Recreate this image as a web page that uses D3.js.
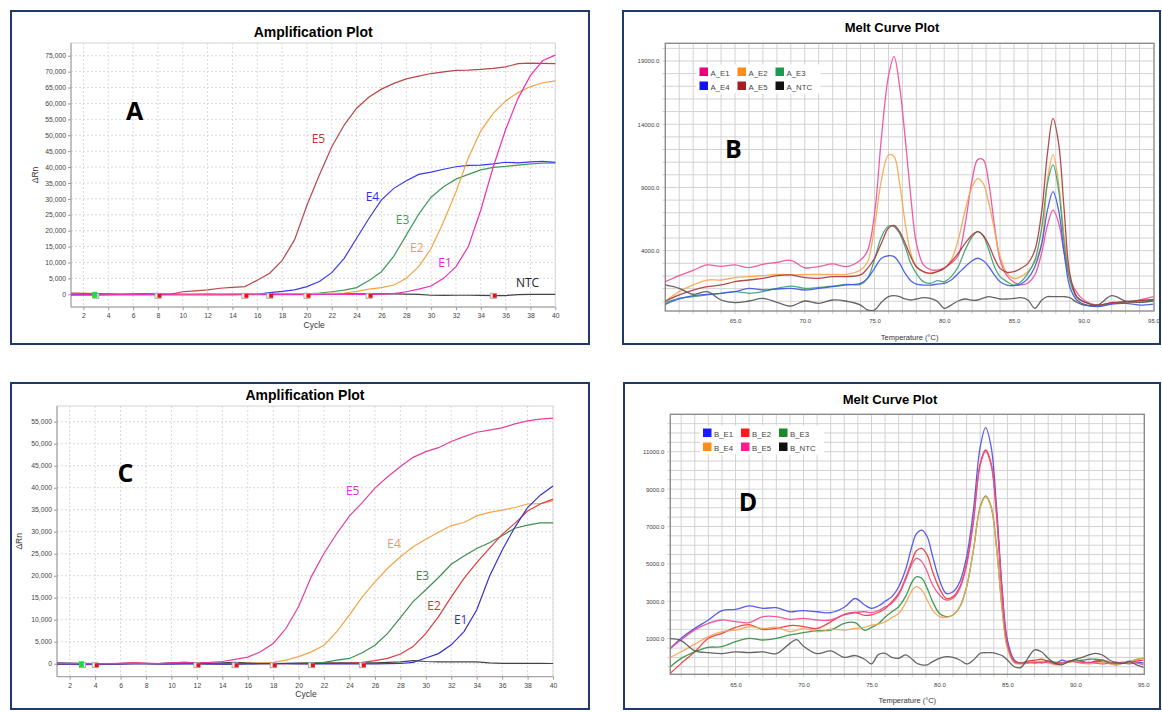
<!DOCTYPE html>
<html>
<head>
<meta charset="utf-8">
<script src="https://cdn.jsdelivr.net/npm/d3@7"></script>
<style>
  body { margin: 0; background: #fff; }
  svg { display: block; font-family: "Liberation Sans", Arial, sans-serif; }
</style>
</head>
<body>
<div id="chart"></div>
<script>
// SVG size
var svgWidth = 1162;
var svgHeight = 712;

// ---------- amplification data (cycles 1..40) ----------
var cycles = d3.range(1, 41);
var cycleTicks = [2, 4, 6, 8, 10, 12, 14, 16, 18, 20, 22, 24, 26, 28, 30, 32, 34, 36, 38, 40];

var ampA_yTicks = [0, 5000, 10000, 15000, 20000, 25000, 30000, 35000, 40000, 45000, 50000, 55000, 60000, 65000, 70000, 75000];
var ampC_yTicks = [0, 5000, 10000, 15000, 20000, 25000, 30000, 35000, 40000, 45000, 50000, 55000];

var ampA_E1 = [-200,-200,-150,-150,-100,-100,-100,-100,-150,-150,-150,-150,-150,-150,-150,-150,-120,-100,-100,-80,-50,-50,-30,0,0,50,200,800,1600,2600,5000,8700,15000,26500,40000,51800,61600,68800,73500,75200];
var ampA_E2 = [300,250,200,150,50,0,-20,-30,-40,-30,-20,0,0,20,30,50,80,100,150,200,250,300,400,900,1600,2100,2900,5000,8700,14400,22800,32200,42900,51400,56900,60800,63400,65300,66500,67100];
var ampA_E3 = [0,-50,-100,-100,-50,0,50,100,50,0,-50,-50,0,50,50,50,50,50,100,100,400,800,1300,2100,4300,7100,12000,18600,25200,30500,33800,36200,37700,39100,39900,40200,40600,41000,41200,41300];
var ampA_E4 = [-200,-200,-200,-150,-150,-100,-100,-100,-100,-100,-100,-100,-100,-100,-50,0,500,900,1400,2400,4000,6800,11300,17600,23900,29700,33300,35700,37700,38400,39300,40100,40500,40600,41000,41500,41300,41600,41800,41500];
var ampA_E5 = [400,300,200,100,0,50,100,0,0,800,1100,1400,1900,2200,2400,4400,6600,10600,17100,28000,37500,46400,53200,58500,62000,64500,66300,67700,68600,69400,69900,70400,70500,70700,71000,71500,72500,72700,72600,72500];
var ampA_NTC = [100,50,0,-50,0,50,100,50,0,-50,0,50,0,-50,0,0,50,100,100,150,150,100,100,100,150,150,100,50,0,-300,-350,-300,-300,-350,-400,-400,-100,0,0,0];

var ampC_E1 = [-100,-100,-150,-150,-100,-100,-50,0,-50,-100,-50,0,-50,-100,-100,-50,0,0,0,-50,-50,-50,-50,-50,-50,-50,0,50,300,1300,2300,4300,7300,12200,19800,25800,31000,35500,38300,40400];
var ampC_E2 = [-50,0,0,-50,-100,100,200,100,0,100,200,100,0,-50,-50,0,0,0,0,0,0,50,100,150,300,700,1200,2200,3900,6900,10700,15200,19400,23000,26200,29400,31900,34700,36300,37400];
var ampC_E3 = [-100,-100,-100,-150,-100,0,100,100,-100,0,100,0,-100,-50,0,0,0,0,50,100,150,300,800,1200,2500,4200,6900,10500,14100,16800,19600,22600,24500,26200,27500,29100,30800,31500,32000,32000];
var ampC_E4 = [-100,-150,-200,-200,-150,-100,0,50,0,100,100,50,0,0,50,100,200,300,800,1600,2700,4200,7300,11100,15200,18600,21700,24300,26600,28300,29900,31400,32100,33600,34400,34900,35500,36300,36400,37000];
var ampC_E5 = [100,50,0,-50,0,100,150,100,0,200,300,200,300,500,1000,1500,2700,4600,8000,13000,19800,25100,29600,33600,36600,39900,42500,44800,46900,48200,49100,50500,51600,52600,53100,53600,54500,55200,55600,55800];
var ampC_NTC = [200,150,100,50,0,50,100,50,0,200,300,200,100,200,300,200,100,50,100,150,200,200,200,200,200,200,300,400,700,500,400,400,450,400,200,100,100,100,100,50];

// baseline / threshold markers (cycle numbers)
var markA_green = [3];
var markA_red = [8, 15, 17, 20, 25, 35];
var markC_green = [3];
var markC_red = [4, 12, 15, 18, 21, 25];

// ---------- melt curve data ----------
var meltTicks = [65, 70, 75, 80, 85, 90, 95];
var meltB_yTicks = [4000, 9000, 14000, 19000];
var meltD_yTicks = [1000, 3000, 5000, 7000, 9000, 11000];

var tempsB = [60,61,62,63,64,65,66,67,68,69,70,71,72,73,74,74.5,75,75.5,76,76.4,76.8,77.2,77.6,78,78.5,79,79.5,80,80.5,81,81.5,82,82.4,82.8,83.2,83.6,84,84.5,85,85.5,86,86.5,87,87.4,87.8,88.2,88.6,89,89.5,90,91,92,93,94,95];
var meltA_E1 = [1550,2030,2450,2870,2760,2870,2660,2920,3080,3240,2650,2740,2950,2740,3260,4000,6900,13000,17800,19350,17000,12900,8300,4600,2900,2500,2470,2650,3000,3600,6100,9600,11200,11200,9300,6000,3300,2000,1500,1300,1450,2100,3900,6000,7200,6200,3800,1800,700,100,-300,-100,-150,100,360];
var meltA_E2 = [0,760,1290,1680,1680,1870,1950,2020,2130,2080,2130,2130,2130,2130,2470,3100,5900,9600,11570,11450,9300,6200,3800,2750,2350,2200,2340,2600,3260,4850,7200,9050,9700,9300,7750,5650,3550,2200,1800,1950,2350,3100,4700,9600,11570,9350,5100,1950,360,-40,-300,-170,-40,-40,100];
var meltA_E3 = [-100,230,360,500,630,760,630,760,1020,1200,1020,1100,1200,1340,1340,1810,3300,5100,5950,5900,5370,4300,3000,2200,1550,1420,1630,1550,1950,2730,4050,5100,5500,5150,4050,2730,1950,1550,1280,1550,2200,3260,5900,9300,10780,8800,4580,1680,310,-40,-380,-170,-40,50,100];
var meltA_E4 = [-240,180,440,550,630,760,1020,890,970,1020,890,1020,1150,1290,1420,1810,2600,3400,3600,3530,3000,2200,1630,1360,1280,1280,1360,1420,1680,2200,2730,3200,3400,3200,2730,2070,1550,1280,1230,1360,1810,2730,4580,7200,8670,7200,3800,1150,100,-220,-430,-220,-170,-300,-220];
var meltA_E5 = [0,500,890,1150,1290,1550,1680,1810,2020,2080,1870,1810,1950,1950,2080,2600,3400,4600,5800,6000,5500,4580,3530,2730,2340,2200,2340,2600,3130,3790,4580,5240,5500,5200,4450,3390,2600,2290,2340,2600,3000,4050,7200,11700,14470,12500,7200,2200,360,-40,-300,-110,-40,50,150];
var meltA_NTC = [1290,1020,550,760,100,-110,20,230,-80,-380,20,-160,100,0,-300,-690,-690,-80,360,440,360,180,100,180,280,230,0,-560,-300,20,180,80,100,250,360,280,180,180,230,280,100,-560,100,360,360,360,360,280,-80,-300,-300,440,20,-80,20];

var tempsD = [60.2,61,62,63,64,65,66,67,68,69,69.5,70,71,72,73,73.8,74.5,75,75.5,76,76.5,77,77.5,78,78.3,78.7,79.1,79.5,80,80.5,81,81.5,82,82.5,83,83.4,83.8,84.2,84.6,85,85.5,86,86.5,87,87.5,88,88.5,89,89.5,90,90.5,91,91.5,92,92.5,93,93.5,94,94.5,95];
var meltB_E1 = [480,1020,1550,2000,2500,2570,2750,2620,2660,2440,2470,2500,2440,2390,2680,3150,2800,2620,2750,3000,3250,3780,4670,6010,6600,6810,6450,5390,4140,3420,3510,4050,5390,7880,11270,12290,11270,8060,3780,930,-140,-320,-250,-300,-250,-200,-350,-150,-250,-150,-200,-300,-200,-250,-300,-400,-300,-200,-250,-300];
var meltB_E2 = [-850,-320,300,1020,1290,1600,1750,1500,1550,1700,1700,1650,1550,1900,2300,2400,2250,2270,2400,2600,2980,3420,4230,5210,5700,5830,5470,4580,3690,3160,3250,3780,5030,7350,10380,11090,10380,7700,3600,750,-180,-290,-200,-150,-100,-200,-250,-300,-200,-150,-250,-300,-200,-150,-250,-300,-250,-300,-200,-150];
var meltB_E3 = [-500,-50,300,540,570,840,1020,930,1020,1200,1260,1320,1430,1465,1820,1860,1450,1610,1800,2150,2440,2710,3250,4050,4310,4230,3690,2980,2350,2180,2270,2710,3780,5740,8060,8630,8060,5920,2710,570,-230,-320,-300,-250,-250,-200,-300,-350,-250,-200,-150,-100,-100,-150,-300,-350,-300,-250,-100,-50];
var meltB_E4 = [0,300,710,1110,1375,1465,1640,1550,1610,1375,1450,1550,1375,1500,1465,1550,1600,1730,1780,1900,2140,2350,2890,3600,3780,3600,3070,2530,2180,2140,2270,2710,3780,5740,8020,8590,8020,5830,2620,480,-290,-360,-300,-250,-200,-300,-400,-350,-250,-200,-300,-350,-300,-250,-350,-400,-300,-250,-100,-50];
var meltB_E5 = [480,930,1470,1820,2000,1910,1860,2180,2180,2035,2060,2090,2000,2000,2270,2400,2440,2390,2500,2700,2890,3340,4140,5030,5300,5120,4580,3870,3340,3070,3160,3690,4940,7260,10290,11000,10290,7610,3510,710,-230,-320,-280,-250,-300,-250,-350,-300,-200,-250,-300,-250,-300,-350,-300,-250,-300,-350,-300,-400];
var meltB_NTC = [1000,900,350,250,200,300,250,300,200,750,950,600,200,350,0,100,-100,-350,150,220,0,-50,130,-100,-300,-400,-400,-230,-50,40,0,-140,-350,-140,220,250,250,200,100,-140,-500,-530,-50,400,300,-50,-320,-400,-230,-100,0,130,220,130,-140,-280,-320,-230,-400,-530];

var svg = d3.select("#chart")
  .append("svg")
  .attr("width", svgWidth)
  .attr("height", svgHeight);

var frameColor = "#1f3a6a";

// ---------- amplification plot ----------
function drawAmp(cfg) {
  var g = svg.append("g");
  var p = cfg.plot;

  g.append("rect")
    .attr("x", cfg.box[0]).attr("y", cfg.box[1])
    .attr("width", cfg.box[2]).attr("height", cfg.box[3])
    .attr("fill", "none").attr("stroke", frameColor).attr("stroke-width", 2);

  var x = d3.scaleLinear().domain([1, 40]).range([p.left, p.right]);
  var y = d3.scaleLinear().domain(cfg.yDomain).range([p.bottom, p.top]);

  // frame of the plot area
  g.append("rect")
    .attr("x", p.left).attr("y", p.top)
    .attr("width", p.right - p.left).attr("height", p.bottom - p.top)
    .attr("fill", "#fff").attr("stroke", "#d4d4d4");

  // dashed grid
  g.append("g").selectAll("line").data(cycleTicks).join("line")
    .attr("x1", d => x(d)).attr("x2", d => x(d))
    .attr("y1", p.top).attr("y2", p.bottom)
    .attr("stroke", "#dadada").attr("stroke-dasharray", "2,2");
  g.append("g").selectAll("line").data(cfg.yTicks).join("line")
    .attr("x1", p.left).attr("x2", p.right)
    .attr("y1", d => y(d)).attr("y2", d => y(d))
    .attr("stroke", "#dadada").attr("stroke-dasharray", "2,2");

  var bottomAxis = d3.axisBottom(x).tickValues(cycleTicks).tickSize(3).tickPadding(3).tickFormat(d3.format("d"));
  var leftAxis = d3.axisLeft(y).tickValues(cfg.yTicks).tickSize(3).tickPadding(2).tickFormat(d3.format(","));

  var xa = g.append("g").attr("transform", `translate(0, ${p.bottom})`).call(bottomAxis);
  var ya = g.append("g").attr("transform", `translate(${p.left}, 0)`).call(leftAxis);
  [xa, ya].forEach(a => {
    a.select(".domain").attr("stroke", "#9a9a9a");
    a.selectAll(".tick line").attr("stroke", "#9a9a9a");
    a.selectAll("text").attr("fill", "#444").attr("font-size", "6.8px")
      .attr("font-family", "'Liberation Sans', Arial, sans-serif");
  });
  // axes start at the plot bottom, not the domain minimum
  ya.select(".domain").attr("d", `M0,${p.top}V${p.bottom}`);
  xa.select(".domain").attr("d", `M${p.left},0H${p.right}`);

  g.append("text")
    .attr("x", (p.left + p.right) / 2).attr("y", cfg.titleY)
    .attr("text-anchor", "middle").attr("font-weight", "bold").attr("font-size", "14px")
    .text("Amplification Plot");
  g.append("text")
    .attr("x", (p.left + p.right) / 2 + 1).attr("y", cfg.cycleY)
    .attr("text-anchor", "middle").attr("font-size", "8.5px").attr("fill", "#333")
    .text("Cycle");
  g.append("text")
    .attr("transform", `translate(${cfg.rnX}, ${(p.top + p.bottom) / 2}) rotate(-90)`)
    .attr("text-anchor", "middle").attr("font-size", "8.5px").attr("fill", "#333")
    .text("ΔRn");

  // curves
  var line = d3.line().x((d, i) => x(cycles[i])).y(d => y(d));
  cfg.series.forEach(s => {
    g.append("path").datum(s.values)
      .attr("d", line).attr("fill", "none")
      .attr("stroke", s.color).attr("stroke-width", 1.2);
  });

  // baseline markers: grey outlined square with a coloured square on it
  var mk = g.append("g");
  mk.selectAll(".mg").data(cfg.markGreen).join("rect")
    .attr("x", d => x(d) - 3).attr("y", y(0) - 1).attr("width", 6).attr("height", 5)
    .attr("fill", "#f4f4f4").attr("stroke", "#9a9a9a").attr("stroke-width", 0.8);
  mk.selectAll(".mg2").data(cfg.markGreen).join("rect")
    .attr("x", d => x(d) - 3.5).attr("y", y(0) - 2.5).attr("width", 5).attr("height", 6)
    .attr("fill", "#22dd33");
  mk.selectAll(".mr").data(cfg.markRed).join("rect")
    .attr("x", d => x(d) - 3).attr("y", y(0) - 1).attr("width", 6).attr("height", 5)
    .attr("fill", "#f4f4f4").attr("stroke", "#9a9a9a").attr("stroke-width", 0.8);
  mk.selectAll(".mr2").data(cfg.markRed).join("rect")
    .attr("x", d => x(d) - 0.5).attr("y", y(0) - 0.5).attr("width", 4).attr("height", 4)
    .attr("fill", "#ee1111");

  // curve names
  g.append("g").selectAll("text").data(cfg.labels).join("text")
    .attr("x", d => x(d.c)).attr("y", d => y(d.v))
    .attr("font-family", "'Open Sans', sans-serif").attr("font-size", "12px")
    .attr("fill", d => d.color)
    .text(d => d.name);

  g.append("text")
    .attr("x", cfg.letter[0]).attr("y", cfg.letter[1])
    .attr("font-family", "'Open Sans', sans-serif").attr("font-weight", "bold").attr("font-size", "25px")
    .attr("text-anchor", "middle")
    .text(cfg.letter[2]);
}

// ---------- melt curve plot ----------
function drawMelt(cfg) {
  var g = svg.append("g");
  var p = cfg.plot;

  g.append("rect")
    .attr("x", cfg.box[0]).attr("y", cfg.box[1])
    .attr("width", cfg.box[2]).attr("height", cfg.box[3])
    .attr("fill", "none").attr("stroke", frameColor).attr("stroke-width", 2);

  var x = d3.scaleLinear().domain(cfg.xDomain).range([p.left, p.right]);
  var y = d3.scaleLinear().domain(cfg.yDomain).range([p.bottom, p.top]);

  var vGrid = d3.range(61, 95, 1);
  var hGrid = d3.range(cfg.gridStart, cfg.yDomain[1], cfg.gridStep);

  g.append("g").selectAll("line").data(vGrid).join("line")
    .attr("x1", d => x(d)).attr("x2", d => x(d))
    .attr("y1", p.top).attr("y2", p.bottom + 3)
    .attr("stroke", "#d2d2d2").attr("stroke-width", 1);
  g.append("g").selectAll("line").data(hGrid).join("line")
    .attr("x1", p.left - 3).attr("x2", p.right)
    .attr("y1", d => y(d)).attr("y2", d => y(d))
    .attr("stroke", "#d2d2d2").attr("stroke-width", 1);

  var bottomAxis = d3.axisBottom(x).tickValues(meltTicks).tickSize(0).tickPadding(8).tickFormat(d3.format(".1f"));
  var leftAxis = d3.axisLeft(y).tickValues(cfg.yTicks).tickSize(0).tickPadding(6).tickFormat(d3.format(".1f"));
  var xa = g.append("g").attr("transform", `translate(0, ${p.bottom})`).call(bottomAxis);
  var ya = g.append("g").attr("transform", `translate(${p.left}, 0)`).call(leftAxis);
  [xa, ya].forEach(a => {
    a.select(".domain").remove();
    a.selectAll("text").attr("fill", "#444").attr("font-size", "6px")
      .attr("font-family", "'Liberation Sans', Arial, sans-serif");
  });

  g.append("rect")
    .attr("x", p.left).attr("y", p.top)
    .attr("width", p.right - p.left).attr("height", p.bottom - p.top)
    .attr("fill", "none").attr("stroke", "#8c8c8c").attr("stroke-width", 1.4);

  g.append("text")
    .attr("x", cfg.titleX).attr("y", cfg.titleY)
    .attr("text-anchor", "middle").attr("font-weight", "bold").attr("font-size", "13px")
    .text("Melt Curve Plot");
  g.append("text")
    .attr("x", (p.left + p.right) / 2).attr("y", cfg.tempY)
    .attr("text-anchor", "middle").attr("font-size", "7.5px").attr("fill", "#333")
    .text("Temperature (°C)");

  var clipId = "clip" + cfg.letter[2];
  g.append("clipPath").attr("id", clipId).append("rect")
    .attr("x", p.left).attr("y", p.top)
    .attr("width", p.right - p.left).attr("height", p.bottom - p.top);

  var line = d3.line().curve(d3.curveCatmullRom.alpha(0.5))
    .x((d, i) => x(cfg.temps[i])).y(d => y(d));
  var cg = g.append("g").attr("clip-path", `url(#${clipId})`);
  cfg.series.forEach(s => {
    cg.append("path").datum(s.values)
      .attr("d", line).attr("fill", "none")
      .attr("stroke", s.color).attr("stroke-width", 1.3).attr("stroke-opacity", 0.9);
  });

  // legend
  var lg = g.append("g").attr("transform", `translate(${cfg.legend[0]}, ${cfg.legend[1]})`);
  lg.append("rect").attr("x", -3).attr("y", -3).attr("width", 124).attr("height", 29).attr("fill", "#fff");
  var items = lg.selectAll("g").data(cfg.series).join("g")
    .attr("transform", (d, i) => `translate(${(i % 3) * 38}, ${Math.floor(i / 3) * 14})`);
  items.append("rect").attr("width", 8.5).attr("height", 8.5).attr("fill", d => d.key);
  items.append("text").attr("x", 11).attr("y", 8).attr("font-size", "7.8px").attr("fill", "#444")
    .text(d => d.name);

  g.append("text")
    .attr("x", cfg.letter[0]).attr("y", cfg.letter[1])
    .attr("font-family", "'Open Sans', sans-serif").attr("font-weight", "bold").attr("font-size", "25px")
    .attr("text-anchor", "middle")
    .text(cfg.letter[2]);
}

drawAmp({
  box: [11, 11, 578, 333],
  plot: { left: 71, top: 43, right: 555.3, bottom: 307 },
  yDomain: [-4000, 79000],
  yTicks: ampA_yTicks,
  titleY: 36.5, cycleY: 328, rnX: 38,
  series: [
    { values: ampA_NTC, color: "#444" },
    { values: ampA_E3, color: "#3f9a5d" },
    { values: ampA_E4, color: "#3a3ae8" },
    { values: ampA_E2, color: "#f6a33c" },
    { values: ampA_E5, color: "#b8474a" },
    { values: ampA_E1, color: "#ee2fb8" }
  ],
  markGreen: markA_green, markRed: markA_red,
  labels: [
    { name: "E5", c: 20.38, v: 47470, color: "#c0392b" },
    { name: "E4", c: 24.73, v: 29420, color: "#2f2fe0" },
    { name: "E3", c: 27.15, v: 22100, color: "#4a9a5a" },
    { name: "E2", c: 28.3, v: 13390, color: "#f0a040" },
    { name: "E1", c: 30.58, v: 8480, color: "#e61ee6" },
    { name: "NTC", c: 36.83, v: 2190, color: "#222" }
  ],
  letter: [134.5, 120, "A"]
});

drawAmp({
  box: [11, 383, 578, 326],
  plot: { left: 57, top: 406, right: 553, bottom: 676.7 },
  yDomain: [-2950, 58570],
  yTicks: ampC_yTicks,
  titleY: 399.5, cycleY: 697, rnX: 22,
  series: [
    { values: ampC_NTC, color: "#444" },
    { values: ampC_E3, color: "#3d8f4f" },
    { values: ampC_E4, color: "#f2a548" },
    { values: ampC_E2, color: "#e33b3b" },
    { values: ampC_E1, color: "#3535c8" },
    { values: ampC_E5, color: "#e23ea0" }
  ],
  markGreen: markC_green, markRed: markC_red,
  labels: [
    { name: "E5", c: 23.72, v: 38345, color: "#e030e0" },
    { name: "E4", c: 26.97, v: 26230, color: "#f0a040" },
    { name: "E3", c: 29.2, v: 19027, color: "#3a8a4a" },
    { name: "E2", c: 30.11, v: 12209, color: "#e03030" },
    { name: "E1", c: 32.21, v: 9027, color: "#3030d0" }
  ],
  letter: [125.5, 481.5, "C"]
});

drawMelt({
  box: [623, 11, 537, 333],
  plot: { left: 665.3, top: 43.3, right: 1154, bottom: 311 },
  xDomain: [60, 95.04],
  yDomain: [-770, 20400],
  yTicks: meltB_yTicks,
  gridStart: 0, gridStep: 1000,
  temps: tempsB,
  titleX: 892, titleY: 31.7, tempY: 340,
  series: [
    { name: "A_E1", values: meltA_E1, color: "#ee4b9a", key: "#e8007d" },
    { name: "A_E2", values: meltA_E2, color: "#f7a54a", key: "#ff8c1a" },
    { name: "A_E3", values: meltA_E3, color: "#3aa06a", key: "#1d9a50" },
    { name: "A_E4", values: meltA_E4, color: "#3d55e6", key: "#1010ff" },
    { name: "A_E5", values: meltA_E5, color: "#a9373c", key: "#a81c24" },
    { name: "A_NTC", values: meltA_NTC, color: "#555", key: "#111" }
  ],
  legend: [699.5, 67.5],
  letter: [733.5, 158.3, "B"]
});

drawMelt({
  box: [624, 383, 536, 326],
  plot: { left: 670.3, top: 414.3, right: 1144.3, bottom: 674.3 },
  xDomain: [60.2, 95.07],
  yDomain: [-904, 13000],
  yTicks: meltD_yTicks,
  gridStart: -500, gridStep: 500,
  temps: tempsD,
  titleX: 890, titleY: 403.5, tempY: 703,
  series: [
    { name: "B_E1", values: meltB_E1, color: "#4a4ae6", key: "#1a1aff" },
    { name: "B_E2", values: meltB_E2, color: "#ee3434", key: "#ff1a1a" },
    { name: "B_E3", values: meltB_E3, color: "#2f8f3f", key: "#1a8a2a" },
    { name: "B_E4", values: meltB_E4, color: "#f5a550", key: "#ff8c1a" },
    { name: "B_E5", values: meltB_E5, color: "#ee4a95", key: "#ff1a8c" },
    { name: "B_NTC", values: meltB_NTC, color: "#555", key: "#111" }
  ],
  legend: [703, 428.5],
  letter: [748, 510.7, "D"]
});
</script>
</body>
</html>
